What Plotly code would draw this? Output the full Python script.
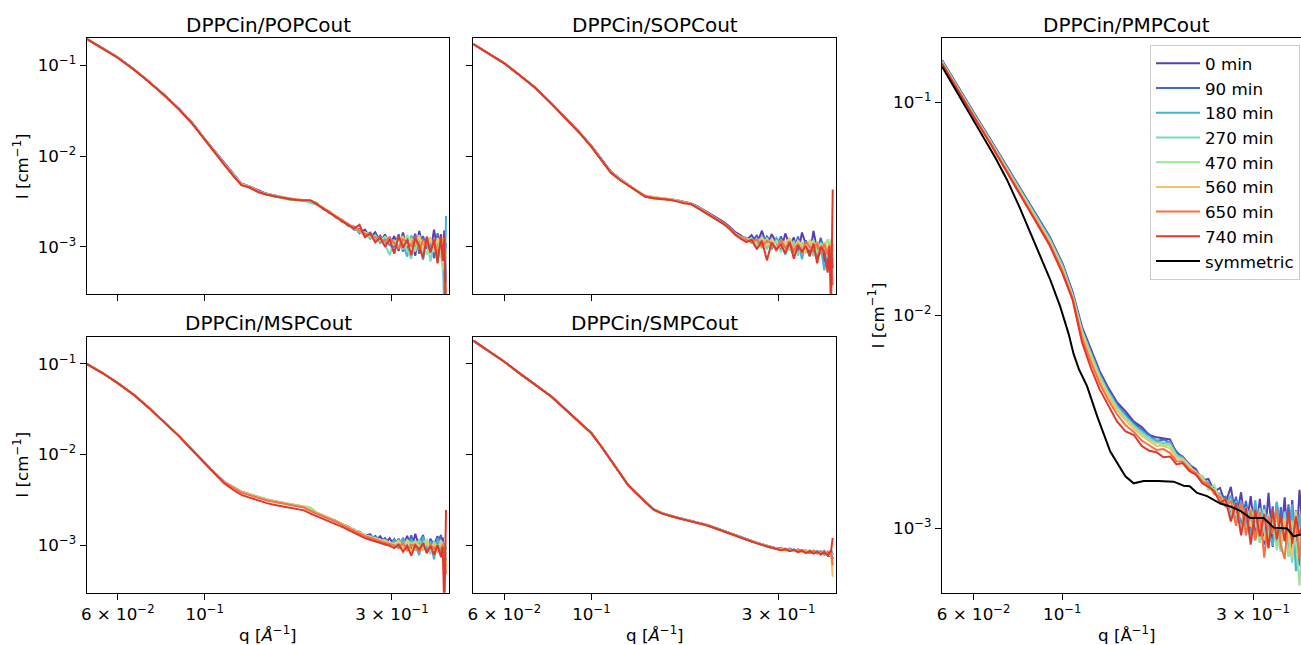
import plotly.graph_objects as go

# ---------------- data ----------------
Q = [0.050, 0.055, 0.060, 0.066, 0.072, 0.079, 0.086, 0.093, 0.100, 0.106,
     0.112, 0.118, 0.124, 0.130, 0.137, 0.144, 0.151, 0.158, 0.165, 0.172,
     0.179, 0.186, 0.193, 0.200, 0.208, 0.216, 0.224, 0.232, 0.240, 0.248,
     0.256, 0.264, 0.272, 0.280, 0.288, 0.296, 0.304, 0.312, 0.320, 0.328,
     0.336, 0.344, 0.352, 0.360, 0.368, 0.376, 0.384, 0.392, 0.400, 0.404,
     0.408, 0.412]

SERIES = ["0 min", "90 min", "180 min", "270 min", "470 min", "560 min", "650 min", "740 min"]
COLORS = ["#5a3db0", "#3f69cf", "#45b3d9", "#79dbbd", "#98e695", "#eec46f", "#fb7043", "#e0382a"]

# DPPCin/POPCout
POPC_0 = [0.197, 0.156, 0.124, 0.0912, 0.0672, 0.0474, 0.0335, 0.0233, 0.0155, 0.0114, 0.0084, 0.0064, 0.0050, 0.00465, 0.0042, 0.00385, 0.0037, 0.00352, 0.00336, 0.00330, 0.00328, 0.00322, 0.00304, 0.00262, 0.00246, 0.00211, 0.00199, 0.00171, 0.00168, 0.00142, 0.00155,
          0.00126, 0.00145, 0.00113, 0.00137, 0.00104, 0.00132, 0.00090, 0.00144, 0.00096, 0.00125, 0.00080, 0.00150, 0.00099, 0.00120, 0.00086, 0.00155, 0.00092, 0.00138,
          0.00085, 0.00152, 0.00040]
POPC_90 = [0.197, 0.155, 0.123, 0.0908, 0.0669, 0.0471, 0.0333, 0.0231, 0.0154, 0.0113, 0.0084, 0.0063, 0.0049, 0.00462, 0.0041, 0.00380, 0.0036, 0.00348, 0.00341, 0.00331, 0.00324, 0.00317, 0.00295, 0.00271, 0.00236, 0.00219, 0.00189, 0.00181, 0.00155, 0.00157, 0.00135,
           0.00144, 0.00118, 0.00133, 0.00108, 0.00129, 0.00099, 0.00138, 0.00089, 0.00128, 0.00105, 0.00140, 0.00084, 0.00132, 0.00095, 0.00122, 0.00075, 0.00142, 0.00089,
           0.00124, 0.00070, 0.00110]
POPC_180 = [0.197, 0.155, 0.123, 0.0906, 0.0668, 0.0470, 0.0332, 0.0231, 0.0154, 0.0113, 0.0083, 0.0063, 0.0049, 0.00460, 0.0041, 0.00383, 0.00366, 0.00352, 0.00339, 0.00334, 0.00326, 0.00319, 0.00297, 0.00266, 0.00243, 0.00213, 0.00196, 0.00172, 0.00163, 0.00145, 0.00146,
            0.00123, 0.00136, 0.00110, 0.00125, 0.00108, 0.00087, 0.00129, 0.00107, 0.00078, 0.00134, 0.00100, 0.00120, 0.00072, 0.00126, 0.00096, 0.00113, 0.00068, 0.00125,
            0.00100, 0.00018, 0.00220]
POPC_270 = [0.197, 0.155, 0.123, 0.0905, 0.0667, 0.0469, 0.0331, 0.0230, 0.0153, 0.0112, 0.0083, 0.0063, 0.0049, 0.00458, 0.0041, 0.00378, 0.00362, 0.00345, 0.00330, 0.00328, 0.00322, 0.00305, 0.00292, 0.00268, 0.00238, 0.00214, 0.00192, 0.00176, 0.00158, 0.00148, 0.00131,
            0.00139, 0.00114, 0.00128, 0.00106, 0.00081, 0.00119, 0.00102, 0.00125, 0.00092, 0.00074, 0.00117, 0.00106, 0.00081, 0.00129, 0.00069, 0.00116, 0.00099, 0.00076,
            0.00112, 0.00060, 0.00095]
POPC_470 = [0.197, 0.155, 0.123, 0.0905, 0.0667, 0.0469, 0.0331, 0.0230, 0.0153, 0.0112, 0.0083, 0.0063, 0.0049, 0.00461, 0.0041, 0.00381, 0.00366, 0.00353, 0.00342, 0.00333, 0.00327, 0.00321, 0.00299, 0.00270, 0.00241, 0.00217, 0.00195, 0.00179, 0.00160, 0.00153, 0.00139,
            0.00128, 0.00132, 0.00117, 0.00130, 0.00114, 0.00106, 0.00125, 0.00094, 0.00135, 0.00111, 0.00089, 0.00130, 0.00105, 0.00082, 0.00123, 0.00096, 0.00119, 0.00083,
            0.00055, 0.00108, 0.00028]
POPC_560 = [0.197, 0.154, 0.122, 0.0903, 0.0665, 0.0468, 0.0330, 0.0229, 0.0152, 0.0112, 0.0082, 0.0062, 0.0049, 0.00459, 0.0041, 0.00379, 0.00365, 0.00351, 0.00340, 0.00335, 0.00326, 0.00323, 0.00300, 0.00272, 0.00242, 0.00218, 0.00197, 0.00178, 0.00164, 0.00149, 0.00144,
            0.00138, 0.00124, 0.00125, 0.00114, 0.00125, 0.00111, 0.00122, 0.00130, 0.00103, 0.00123, 0.00109, 0.00135, 0.00094, 0.00117, 0.00128, 0.00088, 0.00125, 0.00107,
            0.00126, 0.00093, 0.00078]
POPC_650 = [0.197, 0.154, 0.122, 0.0902, 0.0664, 0.0467, 0.0329, 0.0228, 0.0152, 0.0111, 0.0082, 0.0062, 0.0048, 0.00455, 0.0041, 0.00377, 0.00362, 0.00349, 0.00338, 0.00331, 0.00324, 0.00324, 0.00296, 0.00267, 0.00239, 0.00216, 0.00193, 0.00177, 0.00162, 0.00151, 0.00140,
            0.00135, 0.00128, 0.00120, 0.00116, 0.00126, 0.00109, 0.00096, 0.00121, 0.00114, 0.00102, 0.00129, 0.00093, 0.00118, 0.00107, 0.00090, 0.00122, 0.00080, 0.00116,
            0.00080, 0.00112, 0.00022]
POPC_740 = [0.197, 0.154, 0.122, 0.0901, 0.0663, 0.0466, 0.0328, 0.0228, 0.0151, 0.0110, 0.0081, 0.0061, 0.0048, 0.00452, 0.0040, 0.00376, 0.00360, 0.00347, 0.00336, 0.00330, 0.00330, 0.00326, 0.00294, 0.00265, 0.00237, 0.00212, 0.00190, 0.00174, 0.00159, 0.00175, 0.00128,
            0.00141, 0.00112, 0.00127, 0.00100, 0.00122, 0.00084, 0.00132, 0.00098, 0.00119, 0.00081, 0.00126, 0.00102, 0.00075, 0.00130, 0.00087, 0.00120, 0.00066, 0.00131,
            0.00070, 0.00130, 0.00014]

# DPPCin/SOPCout
SOPC_0 = [0.173, 0.134, 0.106, 0.0770, 0.0569, 0.0385, 0.0264, 0.0187, 0.0131, 0.00930, 0.0068, 0.0057, 0.00485, 0.00420, 0.00360, 0.00345, 0.00341, 0.00338, 0.00327, 0.00313, 0.00303, 0.00281, 0.00256, 0.00233, 0.00210, 0.00191, 0.00170, 0.00147, 0.00134, 0.00118, 0.00135,
          0.00107, 0.00151, 0.00100, 0.00138, 0.00113, 0.00090, 0.00141, 0.00103, 0.00127, 0.00083, 0.00144, 0.00106, 0.00079, 0.00150, 0.00094, 0.00121, 0.00068, 0.00101,
          0.00068, 0.00118, 0.00058]
SOPC_90 = [0.173, 0.134, 0.106, 0.0769, 0.0568, 0.0384, 0.0263, 0.0186, 0.0130, 0.00922, 0.0068, 0.0056, 0.00482, 0.00423, 0.00366, 0.00350, 0.00343, 0.00335, 0.00325, 0.00311, 0.00302, 0.00278, 0.00252, 0.00229, 0.00207, 0.00186, 0.00167, 0.00143, 0.00130, 0.00126, 0.00112,
           0.00135, 0.00101, 0.00130, 0.00109, 0.00092, 0.00131, 0.00098, 0.00119, 0.00085, 0.00130, 0.00095, 0.00118, 0.00086, 0.00114, 0.00076, 0.00126, 0.00090, 0.00062,
           0.00110, 0.00090, 0.00107]
SOPC_180 = [0.173, 0.134, 0.106, 0.0768, 0.0567, 0.0383, 0.0262, 0.0185, 0.0129, 0.00918, 0.0067, 0.0056, 0.00481, 0.00421, 0.00364, 0.00349, 0.00344, 0.00337, 0.00326, 0.00310, 0.00300, 0.00276, 0.00250, 0.00228, 0.00205, 0.00184, 0.00163, 0.00140, 0.00127, 0.00121, 0.00116,
            0.00097, 0.00130, 0.00113, 0.00094, 0.00126, 0.00109, 0.00082, 0.00122, 0.00101, 0.00116, 0.00073, 0.00112, 0.00094, 0.00119, 0.00081, 0.00103, 0.00055, 0.00093,
            0.00082, 0.00112, 0.00070]
SOPC_270 = [0.173, 0.134, 0.106, 0.0768, 0.0567, 0.0383, 0.0262, 0.0185, 0.0129, 0.00915, 0.0067, 0.0056, 0.00480, 0.00420, 0.00366, 0.00352, 0.00345, 0.00336, 0.00324, 0.00309, 0.00299, 0.00274, 0.00249, 0.00227, 0.00203, 0.00183, 0.00162, 0.00139, 0.00125, 0.00117, 0.00124,
            0.00101, 0.00118, 0.00094, 0.00122, 0.00088, 0.00118, 0.00106, 0.00091, 0.00117, 0.00080, 0.00113, 0.00100, 0.00109, 0.00079, 0.00115, 0.00088, 0.00106, 0.00076,
            0.00115, 0.00084, 0.00100]
SOPC_470 = [0.173, 0.134, 0.106, 0.0767, 0.0566, 0.0382, 0.0261, 0.0185, 0.0129, 0.00914, 0.0067, 0.0056, 0.00481, 0.00422, 0.00367, 0.00354, 0.00346, 0.00337, 0.00325, 0.00310, 0.00298, 0.00273, 0.00248, 0.00226, 0.00202, 0.00181, 0.00160, 0.00138, 0.00124, 0.00120, 0.00113,
            0.00107, 0.00097, 0.00124, 0.00103, 0.00115, 0.00087, 0.00112, 0.00100, 0.00079, 0.00115, 0.00090, 0.00107, 0.00096, 0.00118, 0.00085, 0.00111, 0.00098, 0.00122,
            0.00095, 0.00122, 0.00088]
SOPC_560 = [0.173, 0.134, 0.106, 0.0767, 0.0566, 0.0382, 0.0261, 0.0184, 0.0128, 0.00912, 0.0067, 0.0056, 0.00483, 0.00424, 0.00369, 0.00356, 0.00347, 0.00338, 0.00326, 0.00311, 0.00301, 0.00277, 0.00251, 0.00229, 0.00206, 0.00185, 0.00164, 0.00141, 0.00129, 0.00123, 0.00118,
            0.00113, 0.00127, 0.00104, 0.00121, 0.00098, 0.00118, 0.00109, 0.00126, 0.00092, 0.00117, 0.00106, 0.00085, 0.00120, 0.00103, 0.00112, 0.00082, 0.00112, 0.00095,
            0.00109, 0.00090, 0.00094]
SOPC_650 = [0.173, 0.134, 0.106, 0.0767, 0.0566, 0.0382, 0.0261, 0.0184, 0.0128, 0.00910, 0.0066, 0.0055, 0.00478, 0.00418, 0.00362, 0.00348, 0.00342, 0.00333, 0.00322, 0.00306, 0.00296, 0.00273, 0.00248, 0.00226, 0.00204, 0.00184, 0.00163, 0.00139, 0.00126, 0.00120, 0.00112,
            0.00121, 0.00101, 0.00117, 0.00109, 0.00092, 0.00120, 0.00097, 0.00111, 0.00091, 0.00108, 0.00085, 0.00114, 0.00102, 0.00089, 0.00111, 0.00083, 0.00108, 0.00082,
            0.00106, 0.00087, 0.00038]
SOPC_740 = [0.173, 0.134, 0.106, 0.0766, 0.0565, 0.0381, 0.0260, 0.0183, 0.0127, 0.00905, 0.0066, 0.0055, 0.00476, 0.00416, 0.00360, 0.00344, 0.00338, 0.00330, 0.00318, 0.00302, 0.00298, 0.00270, 0.00246, 0.00224, 0.00202, 0.00182, 0.00161, 0.00137, 0.00123, 0.00113, 0.00120,
            0.00094, 0.00117, 0.00071, 0.00112, 0.00094, 0.00106, 0.00085, 0.00113, 0.00074, 0.00104, 0.00089, 0.00102, 0.00079, 0.00109, 0.00066, 0.00100, 0.00088, 0.00052,
            0.00101, 0.00019, 0.00430]

# DPPCin/MSPCout
MSPC_0 = [0.100, 0.0790, 0.0615, 0.0458, 0.0330, 0.0228, 0.0161, 0.0112, 0.00805, 0.00630, 0.00503, 0.00438, 0.00390, 0.00365, 0.00340, 0.00318, 0.00305, 0.00294, 0.00282, 0.00275, 0.00262, 0.00243, 0.00228, 0.00214, 0.00199, 0.00186, 0.00171, 0.00162, 0.00146, 0.00141, 0.00127,
          0.00133, 0.00112, 0.00126, 0.00104, 0.00120, 0.00099, 0.00118, 0.00093, 0.00127, 0.00088, 0.00134, 0.00096, 0.00130, 0.00083, 0.00117, 0.00100, 0.00126, 0.00079,
          0.00122, 0.00083, 0.00068]
MSPC_90 = [0.100, 0.0790, 0.0615, 0.0458, 0.0330, 0.0228, 0.0161, 0.0112, 0.00804, 0.00628, 0.00502, 0.00437, 0.00388, 0.00364, 0.00340, 0.00317, 0.00304, 0.00293, 0.00282, 0.00273, 0.00264, 0.00242, 0.00227, 0.00213, 0.00198, 0.00185, 0.00172, 0.00157, 0.00150, 0.00135, 0.00131,
           0.00116, 0.00127, 0.00108, 0.00120, 0.00100, 0.00117, 0.00094, 0.00121, 0.00097, 0.00129, 0.00089, 0.00112, 0.00123, 0.00084, 0.00118, 0.00091, 0.00108, 0.00130,
           0.00086, 0.00104, 0.00090]
MSPC_180 = [0.100, 0.0790, 0.0615, 0.0458, 0.0330, 0.0228, 0.0161, 0.0112, 0.00804, 0.00628, 0.00502, 0.00437, 0.00389, 0.00366, 0.00341, 0.00318, 0.00306, 0.00294, 0.00284, 0.00274, 0.00265, 0.00243, 0.00228, 0.00214, 0.00199, 0.00186, 0.00170, 0.00160, 0.00145, 0.00140, 0.00125,
            0.00128, 0.00115, 0.00111, 0.00114, 0.00102, 0.00112, 0.00097, 0.00119, 0.00088, 0.00115, 0.00099, 0.00078, 0.00124, 0.00094, 0.00111, 0.00070, 0.00120, 0.00090,
            0.00111, 0.00089, 0.00078]
MSPC_270 = [0.100, 0.0790, 0.0615, 0.0458, 0.0330, 0.0228, 0.0161, 0.0112, 0.00804, 0.00628, 0.00503, 0.00438, 0.00390, 0.00366, 0.00342, 0.00320, 0.00307, 0.00295, 0.00284, 0.00275, 0.00266, 0.00244, 0.00229, 0.00215, 0.00200, 0.00186, 0.00171, 0.00159, 0.00148, 0.00138, 0.00128,
            0.00124, 0.00118, 0.00114, 0.00108, 0.00107, 0.00103, 0.00114, 0.00093, 0.00111, 0.00100, 0.00089, 0.00117, 0.00087, 0.00108, 0.00080, 0.00112, 0.00091, 0.00104,
            0.00084, 0.00100, 0.00095]
MSPC_470 = [0.100, 0.0790, 0.0615, 0.0458, 0.0330, 0.0228, 0.0161, 0.0112, 0.00804, 0.00629, 0.00503, 0.00437, 0.00389, 0.00365, 0.00341, 0.00319, 0.00306, 0.00295, 0.00285, 0.00276, 0.00267, 0.00262, 0.00231, 0.00214, 0.00199, 0.00185, 0.00172, 0.00160, 0.00149, 0.00137, 0.00129,
            0.00122, 0.00121, 0.00114, 0.00114, 0.00105, 0.00103, 0.00112, 0.00097, 0.00115, 0.00103, 0.00111, 0.00094, 0.00106, 0.00115, 0.00088, 0.00105, 0.00096, 0.00109,
            0.00092, 0.00101, 0.00088]
MSPC_560 = [0.100, 0.0790, 0.0615, 0.0458, 0.0330, 0.0228, 0.0161, 0.0112, 0.00803, 0.00627, 0.00501, 0.00436, 0.00388, 0.00364, 0.00340, 0.00318, 0.00305, 0.00294, 0.00283, 0.00274, 0.00265, 0.00243, 0.00228, 0.00213, 0.00198, 0.00185, 0.00171, 0.00159, 0.00147, 0.00138, 0.00128,
            0.00124, 0.00116, 0.00114, 0.00109, 0.00107, 0.00102, 0.00109, 0.00094, 0.00111, 0.00084, 0.00106, 0.00100, 0.00088, 0.00111, 0.00093, 0.00103, 0.00082, 0.00114,
            0.00085, 0.00097, 0.00058]
MSPC_650 = [0.100, 0.0790, 0.0615, 0.0457, 0.0329, 0.0227, 0.0160, 0.0112, 0.00800, 0.00622, 0.00496, 0.00430, 0.00382, 0.00358, 0.00334, 0.00312, 0.00300, 0.00289, 0.00278, 0.00270, 0.00261, 0.00239, 0.00224, 0.00210, 0.00195, 0.00182, 0.00168, 0.00156, 0.00145, 0.00135, 0.00126,
            0.00121, 0.00115, 0.00111, 0.00107, 0.00104, 0.00100, 0.00093, 0.00106, 0.00088, 0.00102, 0.00096, 0.00085, 0.00105, 0.00083, 0.00101, 0.00091, 0.00100, 0.00082,
            0.00102, 0.00091, 0.00048]
MSPC_740 = [0.100, 0.0790, 0.0614, 0.0456, 0.0328, 0.0226, 0.0159, 0.0111, 0.00795, 0.00615, 0.00485, 0.00410, 0.00360, 0.00336, 0.00312, 0.00292, 0.00279, 0.00268, 0.00258, 0.00250, 0.00243, 0.00224, 0.00210, 0.00198, 0.00185, 0.00172, 0.00160, 0.00148, 0.00137, 0.00128, 0.00120,
            0.00115, 0.00110, 0.00106, 0.00102, 0.00099, 0.00093, 0.00102, 0.00085, 0.00098, 0.00077, 0.00101, 0.00090, 0.00106, 0.00082, 0.00098, 0.00079, 0.00100, 0.00074,
            0.00096, 0.00018, 0.00245]

# DPPCin/SMPCout
SMPC_0 = [0.181, 0.137, 0.106, 0.0774, 0.0591, 0.0440, 0.0314, 0.0231, 0.0173, 0.0123, 0.00880, 0.00628, 0.00465, 0.00379, 0.00302, 0.00250, 0.00227, 0.00213, 0.00203, 0.00194, 0.00187,
          0.00180, 0.00172, 0.00164, 0.00154, 0.00146, 0.00137, 0.00130, 0.00123, 0.00118, 0.00112, 0.00107, 0.00103, 0.00099, 0.00095, 0.00093, 0.00093, 0.00089, 0.00092, 0.00086, 0.00090, 0.00085, 0.00088, 0.00082, 0.00087, 0.00081, 0.00086, 0.00079, 0.00085, 0.00075, 0.00083, 0.00070]
SMPC_90 = [0.181, 0.137, 0.106, 0.0774, 0.0591, 0.0440, 0.0314, 0.0231, 0.0173, 0.0123, 0.00879, 0.00627, 0.00464, 0.00378, 0.00301, 0.00249, 0.00227, 0.00212, 0.00203, 0.00193, 0.00187,
           0.00179, 0.00172, 0.00163, 0.00154, 0.00145, 0.00137, 0.00129, 0.00123, 0.00117, 0.00112, 0.00106, 0.00103, 0.00097, 0.00095, 0.00092, 0.00094, 0.00088, 0.00091, 0.00087, 0.00085, 0.00089, 0.00083, 0.00088, 0.00082, 0.00086, 0.00080, 0.00087, 0.00080, 0.00083, 0.00088, 0.00078]
SMPC_180 = [0.181, 0.137, 0.106, 0.0774, 0.0591, 0.0440, 0.0314, 0.0231, 0.0173, 0.0123, 0.00880, 0.00628, 0.00465, 0.00379, 0.00302, 0.00250, 0.00228, 0.00213, 0.00203, 0.00194, 0.00187,
            0.00180, 0.00172, 0.00164, 0.00154, 0.00146, 0.00137, 0.00130, 0.00122, 0.00118, 0.00111, 0.00107, 0.00102, 0.00099, 0.00094, 0.00093, 0.00090, 0.00092, 0.00087, 0.00090, 0.00085, 0.00088, 0.00084, 0.00087, 0.00083, 0.00087, 0.00081, 0.00085, 0.00083, 0.00079, 0.00087, 0.00080]
SMPC_270 = [0.181, 0.137, 0.106, 0.0773, 0.0590, 0.0439, 0.0313, 0.0230, 0.0172, 0.0123, 0.00878, 0.00626, 0.00463, 0.00377, 0.00300, 0.00248, 0.00226, 0.00212, 0.00202, 0.00193, 0.00186,
            0.00179, 0.00171, 0.00163, 0.00153, 0.00145, 0.00136, 0.00129, 0.00122, 0.00117, 0.00111, 0.00106, 0.00102, 0.00098, 0.00094, 0.00092, 0.00091, 0.00090, 0.00089, 0.00088, 0.00087, 0.00086, 0.00085, 0.00085, 0.00084, 0.00084, 0.00083, 0.00083, 0.00082, 0.00081, 0.00080, 0.00079]
SMPC_470 = [0.181, 0.137, 0.106, 0.0773, 0.0590, 0.0439, 0.0313, 0.0230, 0.0172, 0.0123, 0.00878, 0.00626, 0.00463, 0.00377, 0.00300, 0.00248, 0.00226, 0.00212, 0.00202, 0.00193, 0.00186,
            0.00179, 0.00171, 0.00163, 0.00153, 0.00145, 0.00136, 0.00129, 0.00122, 0.00116, 0.00111, 0.00105, 0.00102, 0.00098, 0.00093, 0.00092, 0.00089, 0.00092, 0.00087, 0.00089, 0.00085, 0.00088, 0.00083, 0.00087, 0.00082, 0.00086, 0.00081, 0.00085, 0.00080, 0.00084, 0.00078, 0.00082]
SMPC_560 = [0.181, 0.137, 0.106, 0.0773, 0.0590, 0.0439, 0.0313, 0.0230, 0.0172, 0.0123, 0.00877, 0.00625, 0.00462, 0.00376, 0.00300, 0.00248, 0.00226, 0.00212, 0.00202, 0.00192, 0.00186,
            0.00179, 0.00171, 0.00162, 0.00153, 0.00144, 0.00136, 0.00129, 0.00121, 0.00117, 0.00110, 0.00106, 0.00101, 0.00098, 0.00094, 0.00091, 0.00092, 0.00088, 0.00090, 0.00086, 0.00088, 0.00084, 0.00087, 0.00083, 0.00086, 0.00082, 0.00085, 0.00080, 0.00085, 0.00079, 0.00082, 0.00045]
SMPC_650 = [0.181, 0.137, 0.106, 0.0773, 0.0590, 0.0439, 0.0313, 0.0230, 0.0172, 0.0123, 0.00877, 0.00625, 0.00462, 0.00376, 0.00299, 0.00247, 0.00225, 0.00211, 0.00201, 0.00192, 0.00185,
            0.00178, 0.00170, 0.00162, 0.00152, 0.00144, 0.00135, 0.00128, 0.00121, 0.00116, 0.00110, 0.00106, 0.00101, 0.00097, 0.00094, 0.00091, 0.00089, 0.00090, 0.00087, 0.00089, 0.00086, 0.00089, 0.00084, 0.00083, 0.00087, 0.00082, 0.00086, 0.00081, 0.00084, 0.00081, 0.00084, 0.00060]
SMPC_740 = [0.181, 0.137, 0.106, 0.0773, 0.0590, 0.0439, 0.0313, 0.0230, 0.0172, 0.0123, 0.00877, 0.00624, 0.00461, 0.00375, 0.00299, 0.00247, 0.00225, 0.00211, 0.00201, 0.00192, 0.00185,
            0.00178, 0.00170, 0.00162, 0.00152, 0.00144, 0.00135, 0.00128, 0.00121, 0.00116, 0.00110, 0.00105, 0.00101, 0.00097, 0.00093, 0.00091, 0.00088, 0.00091, 0.00086, 0.00089, 0.00084, 0.00087, 0.00082, 0.00086, 0.00081, 0.00085, 0.00079, 0.00084, 0.00077, 0.00083, 0.00086, 0.00121]

# DPPCin/PMPCout
PMPC_0 = [0.158, 0.117, 0.0898, 0.0674, 0.0515, 0.0383, 0.0295, 0.0234, 0.0176, 0.0130, 0.00885, 0.00686, 0.00548, 0.00462, 0.00392, 0.00355, 0.00318, 0.00300, 0.00275, 0.00268, 0.00265, 0.00262, 0.00226, 0.00218, 0.00199, 0.00190, 0.00168, 0.00171, 0.00149, 0.00155, 0.00131,
          0.00157, 0.00109, 0.00148, 0.00098, 0.00142, 0.00091, 0.00138, 0.00084, 0.00147, 0.00082, 0.00133, 0.00088, 0.00140, 0.00077, 0.00136, 0.00074, 0.00152, 0.00093,
          0.00110, 0.00090, 0.00100]
PMPC_90 = [0.157, 0.1163, 0.0893, 0.0670, 0.0512, 0.0380, 0.0293, 0.0232, 0.0175, 0.0128, 0.00868, 0.00670, 0.00536, 0.00452, 0.00385, 0.00343, 0.00314, 0.00292, 0.00276, 0.00258, 0.00262, 0.00253, 0.00230, 0.00214, 0.00201, 0.00180, 0.00176, 0.00158, 0.00157, 0.00137, 0.00141,
           0.00116, 0.00141, 0.00102, 0.00135, 0.00095, 0.00130, 0.00086, 0.00129, 0.00092, 0.00127, 0.00082, 0.00126, 0.00088, 0.00130, 0.00076, 0.00122, 0.00067, 0.00112,
           0.00095, 0.00100, 0.00090]
PMPC_180 = [0.1565, 0.1157, 0.0888, 0.0666, 0.0508, 0.0377, 0.0291, 0.0230, 0.0173, 0.0126, 0.00855, 0.00660, 0.00527, 0.00443, 0.00377, 0.00338, 0.00305, 0.00288, 0.00266, 0.00260, 0.00251, 0.00255, 0.00221, 0.00216, 0.00193, 0.00186, 0.00170, 0.00164, 0.00147, 0.00146, 0.00128,
            0.00143, 0.00108, 0.00135, 0.00107, 0.00093, 0.00136, 0.00088, 0.00124, 0.00098, 0.00083, 0.00134, 0.00088, 0.00121, 0.00074, 0.00130, 0.00063, 0.00117, 0.00085,
            0.00100, 0.00095, 0.00100]
PMPC_270 = [0.155, 0.1145, 0.0879, 0.0659, 0.0503, 0.0373, 0.0287, 0.0227, 0.0170, 0.0125, 0.00843, 0.00650, 0.00519, 0.00437, 0.00371, 0.00330, 0.00304, 0.00280, 0.00265, 0.00252, 0.00254, 0.00245, 0.00222, 0.00210, 0.00196, 0.00181, 0.00174, 0.00155, 0.00153, 0.00136, 0.00137,
            0.00114, 0.00134, 0.00098, 0.00126, 0.00111, 0.00088, 0.00125, 0.00096, 0.00081, 0.00122, 0.00094, 0.00078, 0.00119, 0.00091, 0.00069, 0.00117, 0.00083, 0.00100,
            0.00098, 0.00100, 0.00100]
PMPC_470 = [0.155, 0.1143, 0.0877, 0.0657, 0.0501, 0.0371, 0.0285, 0.0225, 0.0168, 0.0124, 0.00835, 0.00642, 0.00513, 0.00432, 0.00368, 0.00329, 0.00298, 0.00279, 0.00260, 0.00253, 0.00246, 0.00247, 0.00215, 0.00212, 0.00198, 0.00178, 0.00177, 0.00152, 0.00160, 0.00133, 0.00135,
            0.00126, 0.00106, 0.00131, 0.00096, 0.00124, 0.00107, 0.00086, 0.00123, 0.00090, 0.00113, 0.00079, 0.00111, 0.00097, 0.00074, 0.00109, 0.00086, 0.00054, 0.00097,
            0.00095, 0.00100, 0.00100]
PMPC_560 = [0.154, 0.1138, 0.0873, 0.0653, 0.0497, 0.0367, 0.0281, 0.0222, 0.0166, 0.0123, 0.00820, 0.00630, 0.00503, 0.00423, 0.00359, 0.00322, 0.00294, 0.00272, 0.00257, 0.00245, 0.00244, 0.00238, 0.00214, 0.00209, 0.00194, 0.00184, 0.00169, 0.00160, 0.00148, 0.00143, 0.00130,
            0.00134, 0.00116, 0.00117, 0.00116, 0.00102, 0.00121, 0.00098, 0.00088, 0.00117, 0.00095, 0.00115, 0.00083, 0.00111, 0.00093, 0.00073, 0.00121, 0.00081, 0.00106,
            0.00096, 0.00100, 0.00100]
PMPC_650 = [0.1527, 0.1127, 0.0864, 0.0646, 0.0491, 0.0362, 0.0276, 0.0217, 0.0162, 0.0121, 0.00790, 0.00602, 0.00481, 0.00405, 0.00344, 0.00305, 0.00284, 0.00259, 0.00246, 0.00234, 0.00236, 0.00226, 0.00207, 0.00206, 0.00190, 0.00182, 0.00166, 0.00161, 0.00145, 0.00141, 0.00127,
            0.00135, 0.00103, 0.00132, 0.00093, 0.00122, 0.00088, 0.00119, 0.00073, 0.00114, 0.00095, 0.00122, 0.00084, 0.00072, 0.00117, 0.00087, 0.00111, 0.00072, 0.00112,
            0.00095, 0.00100, 0.00100]
PMPC_740 = [0.152, 0.1121, 0.0858, 0.0641, 0.0486, 0.0357, 0.0272, 0.0213, 0.0158, 0.0119, 0.00750, 0.00565, 0.00450, 0.00380, 0.00318, 0.00286, 0.00275, 0.00244, 0.00232, 0.00228, 0.00216, 0.00218, 0.00200, 0.00203, 0.00186, 0.00179, 0.00163, 0.00157, 0.00150, 0.00132, 0.00137,
            0.00108, 0.00132, 0.00093, 0.00125, 0.00084, 0.00122, 0.00092, 0.00117, 0.00081, 0.00123, 0.00089, 0.00115, 0.00087, 0.00120, 0.00085, 0.00114, 0.00093, 0.00106,
            0.00095, 0.00100, 0.00100]

# symmetric reference (DPPCin/PMPCout panel)
Q_SYM = [0.050, 0.0566, 0.0636, 0.0680, 0.0727, 0.0780, 0.0832, 0.0881, 0.0933, 0.0988,
         0.1037, 0.1067, 0.1100, 0.1153, 0.1222, 0.1318, 0.1438, 0.1508, 0.1598, 0.1738,
         0.190, 0.2011, 0.2083, 0.2173, 0.2302, 0.2485, 0.2632, 0.2788, 0.2953, 0.319,
         0.338, 0.365, 0.379, 0.397, 0.412]
I_SYM = [0.1476, 0.0993, 0.0692, 0.0550, 0.0434, 0.0325, 0.0244, 0.0189, 0.0147, 0.0110,
         0.0082, 0.0066, 0.0056, 0.00466, 0.00337, 0.00230, 0.00176, 0.00163, 0.00167, 0.00167,
         0.00166, 0.00159, 0.00158, 0.00147, 0.00142, 0.00131, 0.00127, 0.00121, 0.00112, 0.00112,
         0.00101, 0.00100, 0.00092, 0.00094, 0.00093]

X_TICKS = [0.06, 0.1, 0.3]
X_TICKTEXT = ["6 × 10<sup>−2</sup>", "10<sup>−1</sup>", "3 × 10<sup>−1</sup>"]
Y_TICKS = [0.001, 0.01, 0.1]
Y_TICKTEXT = ["10<sup>−3</sup>", "10<sup>−2</sup>", "10<sup>−1</sup>"]

# ---------------- figure ----------------
W, H = 1301, 645
FONT = "DejaVu Sans"
TICK_SIZE = 16.7

def px_x(x):
    return x / W

def px_y(y):
    return 1 - y / H

panels = [
    ("DPPCin/POPCout", [POPC_0, POPC_90, POPC_180, POPC_270, POPC_470, POPC_560, POPC_650, POPC_740], "x", "y"),
    ("DPPCin/SOPCout", [SOPC_0, SOPC_90, SOPC_180, SOPC_270, SOPC_470, SOPC_560, SOPC_650, SOPC_740], "x2", "y2"),
    ("DPPCin/MSPCout", [MSPC_0, MSPC_90, MSPC_180, MSPC_270, MSPC_470, MSPC_560, MSPC_650, MSPC_740], "x3", "y3"),
    ("DPPCin/SMPCout", [SMPC_0, SMPC_90, SMPC_180, SMPC_270, SMPC_470, SMPC_560, SMPC_650, SMPC_740], "x4", "y4"),
    ("DPPCin/PMPCout", [PMPC_0, PMPC_90, PMPC_180, PMPC_270, PMPC_470, PMPC_560, PMPC_650, PMPC_740], "x5", "y5"),
]

fig = go.Figure()
for title, data, xa, ya in panels:
    for name, color, vals in zip(SERIES, COLORS, data):
        n = min(len(Q), len(vals))
        fig.add_trace(go.Scatter(
            x=Q[:n], y=vals[:n], mode="lines", name=name,
            line=dict(color=color, width=2),
            showlegend=(xa == "x5"), xaxis=xa, yaxis=ya, hoverinfo="skip"))
fig.add_trace(go.Scatter(
    x=Q_SYM, y=I_SYM, mode="lines", name="symmetric",
    line=dict(color="black", width=2), xaxis="x5", yaxis="y5", hoverinfo="skip"))

XL = [px_x(86.7), px_x(449.3)]
XM = [px_x(473.3), px_x(836.0)]
XR = [px_x(942.0), 1.0]
YT = [px_y(294.3), px_y(38.3)]
YB = [px_y(592.7), px_y(336.7)]
YR = [px_y(592.7), px_y(38.3)]

XRANGE = [-1.30103, -0.37675]
XRANGE_R = [-1.30103, -0.4029]
YRANGE = [-3.52288, -0.69897]
YRANGE_R = [-3.30103, -0.69897]

tickfont = dict(family=FONT, size=TICK_SIZE, color="black")

def xaxis(domain, anchor, rng, labels):
    return dict(type="log", domain=domain, anchor=anchor, range=rng,
                showgrid=False, zeroline=False, showline=True, linecolor="black",
                linewidth=1.3, mirror=True, ticks="outside", ticklen=6, tickwidth=1.3,
                tickcolor="black", tickvals=X_TICKS, ticktext=X_TICKTEXT,
                showticklabels=labels, tickfont=tickfont)

def yaxis(domain, anchor, rng, labels, mirror=True):
    return dict(type="log", domain=domain, anchor=anchor, range=rng,
                showgrid=False, zeroline=False, showline=True, linecolor="black",
                linewidth=1.3, mirror=mirror, ticks="outside", ticklen=6, tickwidth=1.3,
                tickcolor="black", tickvals=Y_TICKS, ticktext=Y_TICKTEXT,
                showticklabels=labels, tickfont=tickfont)

annotations = []
def ann(text, x, y, size, angle=0):
    annotations.append(dict(text=text, x=x, y=y, xref="paper", yref="paper",
                            xanchor="center", yanchor="middle", showarrow=False,
                            textangle=angle, font=dict(family=FONT, size=size, color="black")))

ann("DPPCin/POPCout", px_x(268), px_y(25), 20)
ann("DPPCin/SOPCout", px_x(654.7), px_y(25), 20)
ann("DPPCin/MSPCout", px_x(268), px_y(323), 20)
ann("DPPCin/SMPCout", px_x(654.7), px_y(323), 20)
ann("DPPCin/PMPCout", px_x(1126.7), px_y(25), 20)

ann("I [cm<sup>−1</sup>]", px_x(21), px_y(166.3), TICK_SIZE, -90)
ann("I [cm<sup>−1</sup>]", px_x(21), px_y(464.7), TICK_SIZE, -90)
ann("I [cm<sup>−1</sup>]", px_x(876), px_y(315.5), TICK_SIZE, -90)
ann("q [<i>Å</i><sup>−1</sup>]", px_x(268), px_y(634), TICK_SIZE)
ann("q [<i>Å</i><sup>−1</sup>]", px_x(654.7), px_y(634), TICK_SIZE)
ann("q [Å<sup>−1</sup>]", px_x(1126.5), px_y(634), TICK_SIZE)

fig.update_layout(
    width=W, height=H,
    margin=dict(l=0, r=0, t=0, b=0, autoexpand=False),
    paper_bgcolor="white", plot_bgcolor="white",
    font=dict(family=FONT, color="black"),
    xaxis=xaxis(XL, "y", XRANGE, False),
    yaxis=yaxis(YT, "x", YRANGE, True),
    xaxis2=xaxis(XM, "y2", XRANGE, False),
    yaxis2=yaxis(YT, "x2", YRANGE, False),
    xaxis3=xaxis(XL, "y3", XRANGE, True),
    yaxis3=yaxis(YB, "x3", YRANGE, True),
    xaxis4=xaxis(XM, "y4", XRANGE, True),
    yaxis4=yaxis(YB, "x4", YRANGE, False),
    xaxis5=xaxis(XR, "y5", XRANGE_R, True),
    yaxis5=yaxis(YR, "x5", YRANGE_R, True, mirror=False),
    legend=dict(x=px_x(1150), y=px_y(45), xref="container", yref="container",
                xanchor="left", yanchor="top",
                bgcolor="rgba(255,255,255,0.8)", bordercolor="#cccccc", borderwidth=1,
                font=dict(family=FONT, size=TICK_SIZE, color="black"),
                itemwidth=44, tracegroupgap=0),
    annotations=annotations,
    showlegend=True,
)

fig.write_html("out.html", config={"displayModeBar": False},
               post_script="document.body.style.margin='0';document.body.style.overflow='hidden';")
